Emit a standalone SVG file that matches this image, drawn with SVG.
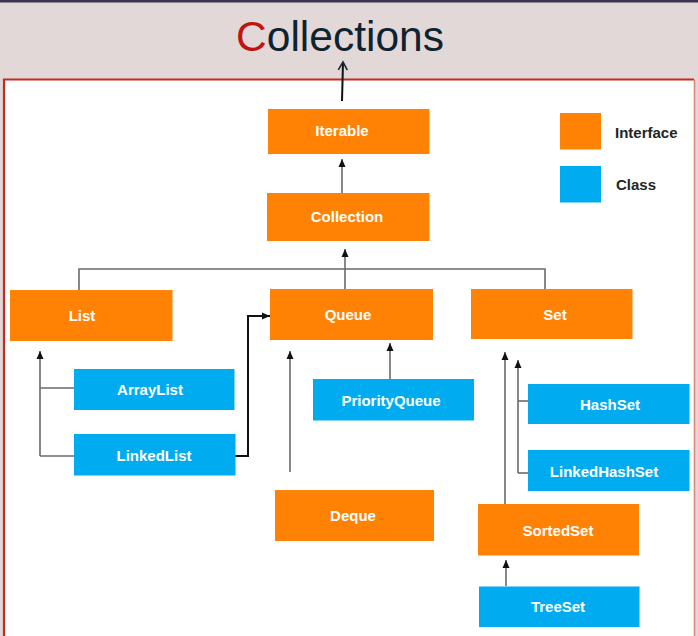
<svg xmlns="http://www.w3.org/2000/svg" width="698" height="636" viewBox="0 0 698 636">
<defs>
<style>
.bg{fill:#e2d8d8}
.iface{fill:#ff8204}
.cls{fill:#00acef}
.lbl{font-family:"Liberation Sans",Arial,sans-serif;font-weight:bold;font-size:15px;fill:#ffffff;text-anchor:middle}
.leg{font-family:"Liberation Sans",Arial,sans-serif;font-weight:bold;font-size:15px;fill:#252525}
.ln{fill:none;stroke:#6a6a6a;stroke-width:1.6}
.lk{fill:none;stroke:#111111;stroke-width:2}
</style>
<marker id="ah" markerUnits="userSpaceOnUse" markerWidth="8" markerHeight="8" refX="8" refY="4" orient="auto">
<path d="M0,0.5 L8,4 L0,7.5 z" fill="#111111"/>
</marker>
<marker id="open" markerUnits="userSpaceOnUse" markerWidth="12" markerHeight="12" refX="9" refY="6" orient="auto">
<path d="M1,1.5 L9,6 L1,10.5" fill="none" stroke="#1a2a30" stroke-width="1.6"/>
</marker>
</defs>
<rect x="0" y="0" width="698" height="636" class="bg"/>
<rect x="0" y="0" width="698" height="2.5" fill="#3b3350"/>
<rect x="4" y="79.5" width="690" height="560" fill="#ffffff"/>
<path d="M4,640 V79.5 H694" fill="none" stroke="#c62a25" stroke-width="2.2"/>
<path d="M694.5,79.5 V640" fill="none" stroke="#d88a7c" stroke-width="1.6"/>
<text x="340" y="51" font-family="'Liberation Sans',Arial,sans-serif" font-size="42.5" text-anchor="middle" fill="#0e2230"><tspan fill="#c0140e">C</tspan>ollections</text>

<g id="connectors">
<path d="M342,101 L343,62" class="lk" stroke="#1a2a30" stroke-width="1.6" marker-end="url(#open)"/>
<path d="M342,193 V159" class="ln" marker-end="url(#ah)"/>
<path d="M79,290 V269 H545 V289" class="ln"/>
<path d="M345,289 V249" class="ln" marker-end="url(#ah)"/>
<path d="M40,456 V351" class="ln" marker-end="url(#ah)"/>
<path d="M40,388 H74" class="ln"/>
<path d="M40,456 H74" class="ln"/>
<path d="M235,456 H248 V316 H270" class="lk" marker-end="url(#ah)"/>
<path d="M290,472 V351" class="ln" marker-end="url(#ah)"/>
<path d="M390,379 V343" class="ln" marker-end="url(#ah)"/>
<path d="M505,504 V352" class="ln" marker-end="url(#ah)"/>
<path d="M518,473 V360" class="ln" marker-end="url(#ah)"/>
<path d="M518,401 H528" class="ln"/>
<path d="M518,473 H528" class="ln"/>
<path d="M506,586 V560" class="ln" marker-end="url(#ah)"/>
</g>

<g id="legend">
<rect x="560" y="113" width="41" height="36.5" class="iface"/>
<text x="615" y="137.5" class="leg">Interface</text>
<rect x="560" y="166" width="41" height="36.5" class="cls"/>
<text x="616" y="189.5" class="leg">Class</text>
</g>

<g id="iterable"><rect x="268" y="109" width="161.5" height="45" class="iface"/><text x="342" y="136" class="lbl">Iterable</text></g>
<g id="collection"><rect x="267" y="193" width="162.5" height="48" class="iface"/><text x="347" y="222" class="lbl">Collection</text></g>
<g id="list"><rect x="10" y="290" width="162.5" height="51" class="iface"/><text x="82" y="321" class="lbl">List</text></g>
<g id="queue"><rect x="270" y="289" width="163" height="51" class="iface"/><text x="348" y="320" class="lbl">Queue</text></g>
<g id="set"><rect x="471" y="289" width="161.5" height="50" class="iface"/><text x="555" y="320" class="lbl">Set</text></g>
<g id="arraylist"><rect x="74" y="369" width="160.5" height="41" class="cls"/><text x="150" y="395" class="lbl">ArrayList</text></g>
<g id="linkedlist"><rect x="74" y="434" width="161.5" height="41.5" class="cls"/><text x="154" y="461" class="lbl">LinkedList</text></g>
<g id="priorityqueue"><rect x="313" y="379" width="161" height="41.5" class="cls"/><text x="391" y="405.5" class="lbl">PriorityQueue</text></g>
<g id="hashset"><rect x="528" y="384" width="161.5" height="40" class="cls"/><text x="610" y="409.5" class="lbl">HashSet</text></g>
<g id="linkedhashset"><rect x="528" y="450" width="161.5" height="41" class="cls"/><text x="604" y="476.5" class="lbl">LinkedHashSet</text></g>
<g id="deque"><rect x="275" y="490" width="159" height="51" class="iface"/><text x="353" y="521" class="lbl">Deque</text></g>
<g id="sortedset"><rect x="478" y="504" width="161" height="51.5" class="iface"/><text x="558" y="535.5" class="lbl">SortedSet</text></g>
<g id="treeset"><rect x="479" y="586.5" width="160.5" height="40.5" class="cls"/><text x="558" y="612" class="lbl">TreeSet</text></g>
</svg>
